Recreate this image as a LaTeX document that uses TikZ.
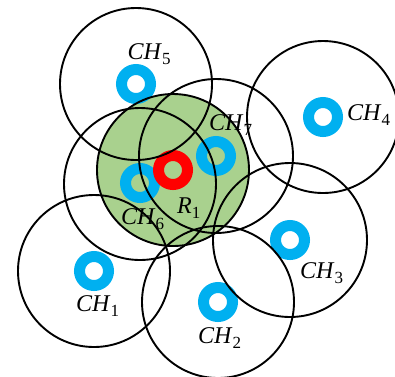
\documentclass[tikz,border=0pt]{standalone}
\usepackage{fontspec}
\setmainfont{Liberation Serif}
\definecolor{ringblue}{HTML}{00B0F0}
\definecolor{leaf}{HTML}{A9D18E}
\newcommand{\lbl}[2]{\textit{#1}\raisebox{-0.22em}{\fontsize{17}{17}\selectfont #2}}
\begin{document}
\begin{tikzpicture}[x=1pt,y=-1pt,
  cov/.style={draw=black, line width=1.9},
  ringstyle/.style={draw=ringblue, line width=11},
  redring/.style={draw=red, line width=11},
  lab/.style={font=\fontsize{24}{28}\selectfont, inner sep=0, anchor=west}]
\useasboundingbox (0,0) rectangle (395,376);
% centres
\coordinate (c5) at (136,84);
\coordinate (c4) at (323,117);
\coordinate (c7) at (216,156);
\coordinate (c6) at (140,184);
\coordinate (r1) at (173,170);
\coordinate (c3) at (290,240);
\coordinate (c1) at (94,271);
\coordinate (c2) at (218,302);
% green region
\fill[leaf] (r1) circle[radius=76];
% rings
\draw[ringstyle] (c5) circle[radius=14.5];
\draw[ringstyle] (c4) circle[radius=14.5];
\draw[ringstyle] (c3) circle[radius=14.5];
\draw[ringstyle] (c1) circle[radius=14.5];
\draw[ringstyle] (c2) circle[radius=14.5];
\draw[ringstyle] (216,156) circle[radius=14.5];
\draw[ringstyle] (140,183) circle[radius=14.5];
\draw[redring] (r1) circle[radius=14.5];
% coverage circles
\draw[cov] (r1) circle[radius=76];
\draw[cov] (c5) circle[radius=76];
\draw[cov] (c4) circle[radius=76];
\draw[cov] (c7) circle[radius=77];
\draw[cov] (c6) circle[radius=76];
\draw[cov] (c3) circle[radius=77];
\draw[cov] (c1) circle[radius=76];
\draw[cov] (c2) circle[radius=76];
% labels
\node[lab] (l5) at (127.5,54) {\lbl{CH}{5}};
\node[lab] (l4) at (347,115) {\lbl{CH}{4}};
\node[lab] (l7) at (209,125) {\lbl{CH}{7}};
\node[lab] (l6) at (121,219) {\lbl{CH}{6}};
\node[lab] (lr) at (177,208) {\lbl{R}{1}};
\node[lab] (l3) at (300,273) {\lbl{CH}{3}};
\node[lab] (l1) at (76,306) {\lbl{CH}{1}};
\node[lab] (l2) at (198,338) {\lbl{CH}{2}};
\end{tikzpicture}
\end{document}
